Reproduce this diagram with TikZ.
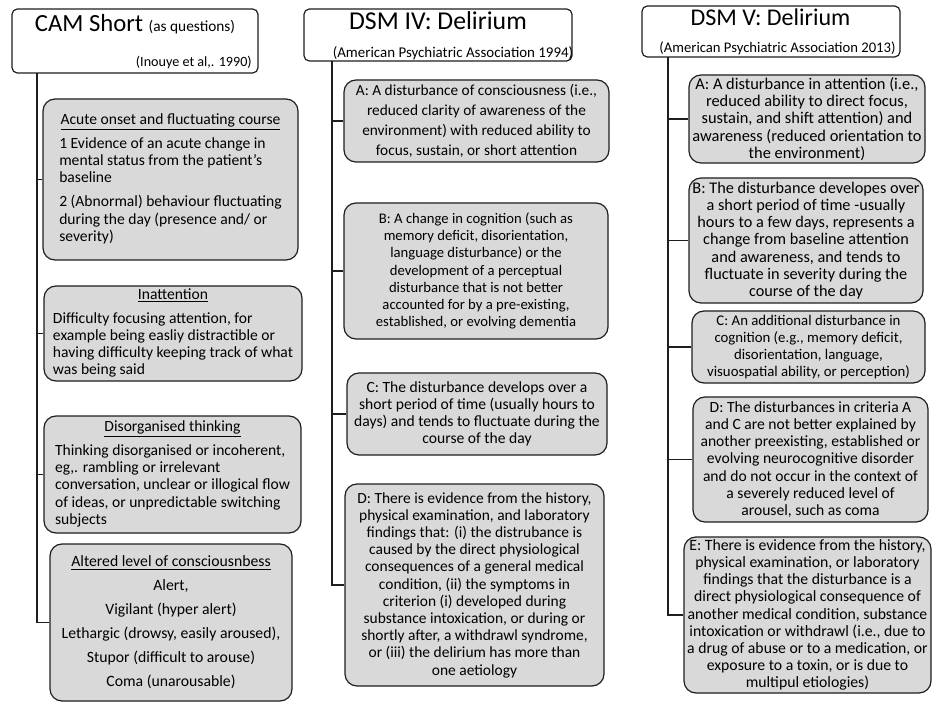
\documentclass[tikz,border=0pt]{standalone}
\usepackage{fontspec}
\setmainfont{Carlito}
\definecolor{boxgray}{RGB}{217,217,217}
\definecolor{linecol}{RGB}{30,30,30}
\newcommand{\fsz}[2]{\fontsize{#1}{#2}\selectfont}
\begin{document}
\begin{tikzpicture}[x=0.75pt,y=-0.75pt,
  headbox/.style={draw=linecol, line width=0.9pt, rounded corners=4pt, fill=white, inner sep=0pt},
  gbox/.style={draw=linecol, line width=0.9pt, rounded corners=9pt, fill=boxgray, inner sep=0pt, align=center, font=\fsz{11.7}{12.9}},
  titletext/.style={inner sep=0pt, font=\fsz{18.5}{22}},
  subtext/.style={inner sep=0pt, font=\fsz{11}{13}},
  link/.style={draw=linecol, line width=1.1pt}]
\useasboundingbox (0,0) rectangle (932,702);

% ---------------- CAM Short column ----------------
\node[headbox, minimum width=184.5pt, minimum height=48pt] (camh) at (135,41) {};
\node[titletext, anchor=base] (camt) at (135,32) {CAM Short {\fsz{11.5}{13}(as questions)}};
\node[subtext, anchor=base east, font=\fsz{10.6}{13}] (camc) at (252,67) {(Inouye et al,. 1990)};

\node[gbox, minimum width=191.25pt, minimum height=120.75pt] (cam1) at (170.5,179.5)
 {\begin{tabular}{@{}l@{}}\multicolumn{1}{@{}c@{}}{\underline{Acute onset and fluctuating course}}\\[5pt]
 1 Evidence of an acute change in\\ mental status from the patient's\\ baseline\\[5pt]
 2 (Abnormal) behaviour fluctuating\\ during the day (presence and/ or\\ severity)\end{tabular}};
\node[gbox, minimum width=193.5pt, minimum height=71.25pt] (cam2) at (173,333.5)
 {\begin{tabular}{@{}l@{}}\multicolumn{1}{@{}c@{}}{\underline{Inattention}}\\[5pt]
 Difficulty focusing attention, for\\ example being easliy distractible or\\ having difficulty keeping track of what\\ was being said\end{tabular}};
\node[gbox, minimum width=192.75pt, minimum height=87.75pt] (cam3) at (172.5,474.5)
 {\begin{tabular}{@{}l@{}}\multicolumn{1}{@{}c@{}}{\underline{Disorganised thinking}}\\[5pt]
 Thinking disorganised or incoherent,\\ eg,. rambling or irrelevant\\ conversation, unclear or illogical flow\\ of ideas, or unpredictable switching\\ subjects\end{tabular}};
\node[gbox, minimum width=181.5pt, minimum height=117.75pt, font=\fsz{11.8}{18}] (cam4) at (171,622.5)
 {\underline{Altered level of consciousnbess}\\ Alert,\\ Vigilant (hyper alert)\\ Lethargic (drowsy, easily aroused),\\ Stupor (difficult to arouse)\\ Coma (unarousable)};

\coordinate (camtop) at (37,73);
\draw[link] (camtop) |- (cam4.west);
\draw[link] (cam1.west) -- (cam1.west -| camtop);
\draw[link] (cam2.west) -- (cam2.west -| camtop);
\draw[link] (cam3.west) -- (cam3.west -| camtop);

% ---------------- DSM IV column ----------------
\node[headbox, minimum width=201pt, minimum height=39pt] (d4h) at (438,35) {};
\node[titletext, anchor=base, font=\fsz{19.3}{22}] (d4t) at (438,30) {DSM IV: Delirium};
\node[subtext, anchor=base, font=\fsz{11.2}{13}] (d4s) at (453,58) {(American Psychiatric Association 1994)};

\node[gbox, minimum width=198.75pt, minimum height=61.5pt, font=\fsz{11.5}{15}] (d4a) at (476.5,121)
 {A: A disturbance of consciousness (i.e.,\\ reduced clarity of awareness of the\\ environment) with reduced ability to\\ focus, sustain, or short attention};
\node[gbox, minimum width=198pt, minimum height=102pt, font=\fsz{11}{12.9}] (d4b) at (476,271)
 {B: A change in cognition (such as\\ memory deficit, disorientation,\\ language disturbance) or the\\ development of a perceptual\\ disturbance that is not better\\ accounted for by a pre-existing,\\ established, or evolving dementia};
\node[gbox, minimum width=195pt, minimum height=61.5pt] (d4c) at (477,414)
 {C: The disturbance develops over a\\ short period of time (usually hours to\\ days) and tends to fluctuate during the\\ course of the day};
\node[gbox, minimum width=194.25pt, minimum height=151.5pt, font=\fsz{11.6}{12.9}] (d4d) at (474.5,585)
 {D: There is evidence from the history,\\ physical examination, and laboratory\\ findings that: (i) the distrubance is\\ caused by the direct physiological\\ consequences of a general medical\\ condition, (ii) the symptoms in\\ criterion (i) developed during\\ substance intoxication, or during or\\ shortly after, a withdrawl syndrome,\\ or (iii) the delirium has more than\\ one aetiology};

\coordinate (d4top) at (332,61);
\draw[link] (d4top) |- (d4d.west);
\draw[link] (d4a.west) -- (d4a.west -| d4top);
\draw[link] (d4b.west) -- (d4b.west -| d4top);
\draw[link] (d4c.west) -- (d4c.west -| d4top);

% ---------------- DSM V column ----------------
\node[headbox, minimum width=193.5pt, minimum height=38.25pt] (d5h) at (771,31.5) {};
\node[titletext, anchor=base, font=\fsz{18}{22}] (d5t) at (770.5,26) {DSM V: Delirium};
\node[subtext, anchor=base] (d5s) at (777.5,53) {(American Psychiatric Association 2013)};

\node[gbox, minimum width=177pt, minimum height=66pt, font=\fsz{12.3}{12.9}] (d5a) at (807,119)
 {A: A disturbance in attention (i.e.,\\ reduced ability to direct focus,\\ sustain, and shift attention) and\\ awareness (reduced orientation to\\ the environment)};
\node[gbox, minimum width=175.5pt, minimum height=93.75pt, font=\fsz{12.2}{12.9}] (d5b) at (806,240.5)
 {B: The disturbance developes over\\ a short period of time -usually\\ hours to a few days, represents a\\ change from baseline attention\\ and awareness, and tends to\\ fluctuate in severity during the\\ course of the day};
\node[gbox, minimum width=174.75pt, minimum height=54pt, font=\fsz{11.1}{12.9}] (d5c) at (808.5,347)
 {C: An additional disturbance in\\ cognition (e.g., memory deficit,\\ disorientation, language,\\ visuospatial ability, or perception)};
\node[gbox, minimum width=176.25pt, minimum height=93.75pt] (d5d) at (810.5,459.5)
 {D: The disturbances in criteria A\\ and C are not better explained by\\ another preexisting, established or\\ evolving neurocognitive disorder\\ and do not occur in the context of\\ a severely reduced level of\\ arousel, such as coma};
\node[gbox, minimum width=185.25pt, minimum height=117pt, font=\fsz{11.8}{12.9}] (d5e) at (807.5,615)
 {E: There is evidence from the history,\\ physical examination, or laboratory\\ findings that the disturbance is a\\ direct physiological consequence of\\ another medical condition, substance\\ intoxication or withdrawl (i.e., due to\\ a drug of abuse or to a medication, or\\ exposure to a toxin, or is due to\\ multipul etiologies)};

\coordinate (d5top) at (668,57);
\draw[link] (d5top) |- (d5e.west);
\draw[link] (d5a.west) -- (d5a.west -| d5top);
\draw[link] (d5b.west) -- (d5b.west -| d5top);
\draw[link] (d5c.west) -- (d5c.west -| d5top);
\draw[link] (d5d.west) -- (d5d.west -| d5top);
\end{tikzpicture}
\end{document}
